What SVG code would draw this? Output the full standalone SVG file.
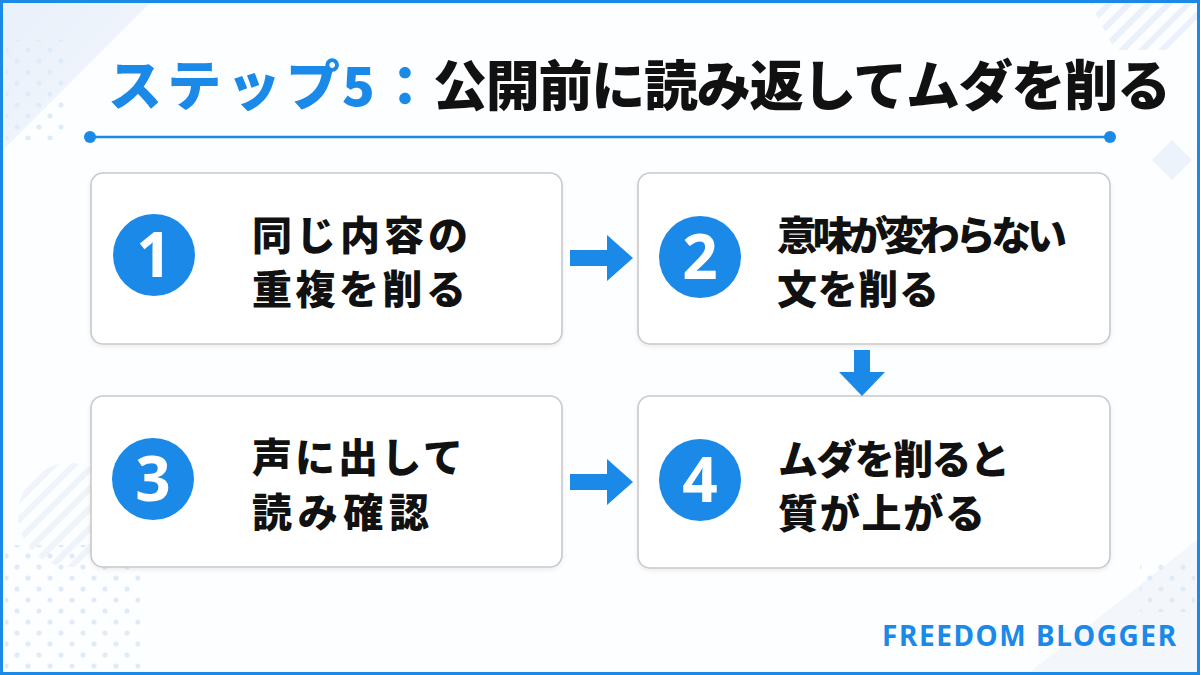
<svg xmlns="http://www.w3.org/2000/svg" width="1200" height="675" viewBox="0 0 1200 675">
  <defs>
    <style>
      .box { fill: #ffffff; stroke: #c9c9c9; stroke-width: 1.6; }
      .num-bg { fill: #1a89e8; }
      .num { fill: #ffffff; font-family: "Noto Sans", "Liberation Sans", sans-serif; font-weight: 700; font-size: 62px; text-anchor: middle; }
      .label { fill: #111111; font-family: "Noto Sans CJK JP", sans-serif; font-weight: 900; font-size: 40px; }
      .title { font-family: "Noto Sans CJK JP", sans-serif; font-weight: 900; font-size: 54px; }
      .arrow { fill: #1a89e8; }
      .deco { fill: #edf3fb; }
    </style>
    <pattern id="dots" width="22" height="22" patternUnits="userSpaceOnUse">
      <circle cx="6" cy="6" r="2.6" fill="#e0ebf8"/>
      <circle cx="17" cy="17" r="2.6" fill="#e0ebf8"/>
    </pattern>
    <pattern id="stripes" width="14" height="14" patternUnits="userSpaceOnUse" patternTransform="rotate(45)">
      <rect x="0" y="0" width="6" height="14" fill="#ebf1fa"/>
    </pattern>
    <linearGradient id="tl" x1="0" y1="0" x2="1" y2="1">
      <stop offset="0" stop-color="#e8f0fa"/>
      <stop offset="1" stop-color="#f5f8fd"/>
    </linearGradient>
    <filter id="sh" x="-5%" y="-5%" width="110%" height="115%">
      <feDropShadow dx="0" dy="2" stdDeviation="2" flood-color="#000" flood-opacity="0.07"/>
    </filter>
  </defs>

  <!-- background -->
  <rect x="0" y="0" width="1200" height="675" fill="#fdfeff"/>
  <g id="decorations">
    <polygon points="3,3 150,3 3,150" fill="url(#tl)"/>
    <rect x="6" y="40" width="58" height="100" fill="url(#dots)"/>
    <polygon points="1090,3 1197,3 1197,30 1170,50 1115,50" fill="url(#stripes)"/>
    <polygon points="1172,140 1192,160 1172,180 1152,160" class="deco"/>
    <circle cx="70" cy="515" r="52" fill="url(#stripes)" opacity="0.8"/>
    <rect x="5" y="545" width="135" height="125" fill="url(#dots)"/>
    <polygon points="1197,540 1197,672 1030,672" fill="#f3f7fc"/>
    <rect x="1140" y="562" width="55" height="50" fill="url(#dots)"/>
  </g>
  <rect x="1.5" y="1.5" width="1197" height="672" fill="none" stroke="#1a89e8" stroke-width="3"/>

  <!-- title -->
  <g id="title">
    <text class="title" x="108" y="106" fill="#1a89e8" textLength="232" lengthAdjust="spacing">ステップ</text>
    <text class="title" x="342" y="106" fill="#1a89e8">5</text>
    <text class="title" x="378" y="106" fill="#1a89e8">：</text>
    <text class="title" x="433" y="106" fill="#111111" textLength="738" lengthAdjust="spacing">公開前に読み返してムダを削る</text>
    <line x1="90" y1="137" x2="1110" y2="137" stroke="#1a89e8" stroke-width="2.5"/>
    <circle cx="90" cy="137" r="6" fill="#1a89e8"/>
    <circle cx="1110" cy="137" r="6" fill="#1a89e8"/>
  </g>

  <!-- nodes -->
  <g id="node1">
    <rect class="box" x="91" y="173" width="471" height="171" rx="12" filter="url(#sh)"/>
    <circle class="num-bg" cx="154" cy="255" r="41"/>
    <text class="num" x="154" y="277">1</text>
    <text class="label" x="252" y="250" textLength="216" lengthAdjust="spacing">同じ内容の</text>
    <text class="label" x="252" y="304" textLength="214" lengthAdjust="spacing">重複を削る</text>
  </g>
  <g id="node2">
    <rect class="box" x="638" y="173" width="472" height="171" rx="12" filter="url(#sh)"/>
    <circle class="num-bg" cx="700" cy="257" r="41"/>
    <text class="num" x="700" y="279">2</text>
    <text class="label" x="777" y="250" textLength="290" lengthAdjust="spacing">意味が変わらない</text>
    <text class="label" x="777" y="304" textLength="162" lengthAdjust="spacing">文を削る</text>
  </g>
  <g id="node3">
    <rect class="box" x="91" y="396" width="471" height="171" rx="12" filter="url(#sh)"/>
    <circle class="num-bg" cx="153" cy="479" r="41"/>
    <text class="num" x="153" y="501">3</text>
    <text class="label" x="252" y="472" textLength="211" lengthAdjust="spacing">声に出して</text>
    <text class="label" x="252" y="527" textLength="177" lengthAdjust="spacing">読み確認</text>
  </g>
  <g id="node4">
    <rect class="box" x="638" y="396" width="472" height="172" rx="12" filter="url(#sh)"/>
    <circle class="num-bg" cx="700" cy="480" r="41"/>
    <text class="num" x="700" y="502">4</text>
    <text class="label" x="778" y="474" textLength="232" lengthAdjust="spacing">ムダを削ると</text>
    <text class="label" x="778" y="528" textLength="207" lengthAdjust="spacing">質が上がる</text>
  </g>

  <!-- connectors -->
  <g id="connectors">
    <polygon class="arrow" points="570,250 607,250 607,235 633,258 607,281 607,266 570,266"/>
    <polygon class="arrow" points="854,350 870,350 870,372 885,372 862,396 839,372 854,372"/>
    <polygon class="arrow" points="570,474 607,474 607,459 633,482 607,505 607,490 570,490"/>
  </g>

  <text x="882" y="646" fill="#1a89e8" font-family="Noto Sans, Liberation Sans, sans-serif" font-weight="700" font-size="28" textLength="294" lengthAdjust="spacing">FREEDOM BLOGGER</text>
</svg>
